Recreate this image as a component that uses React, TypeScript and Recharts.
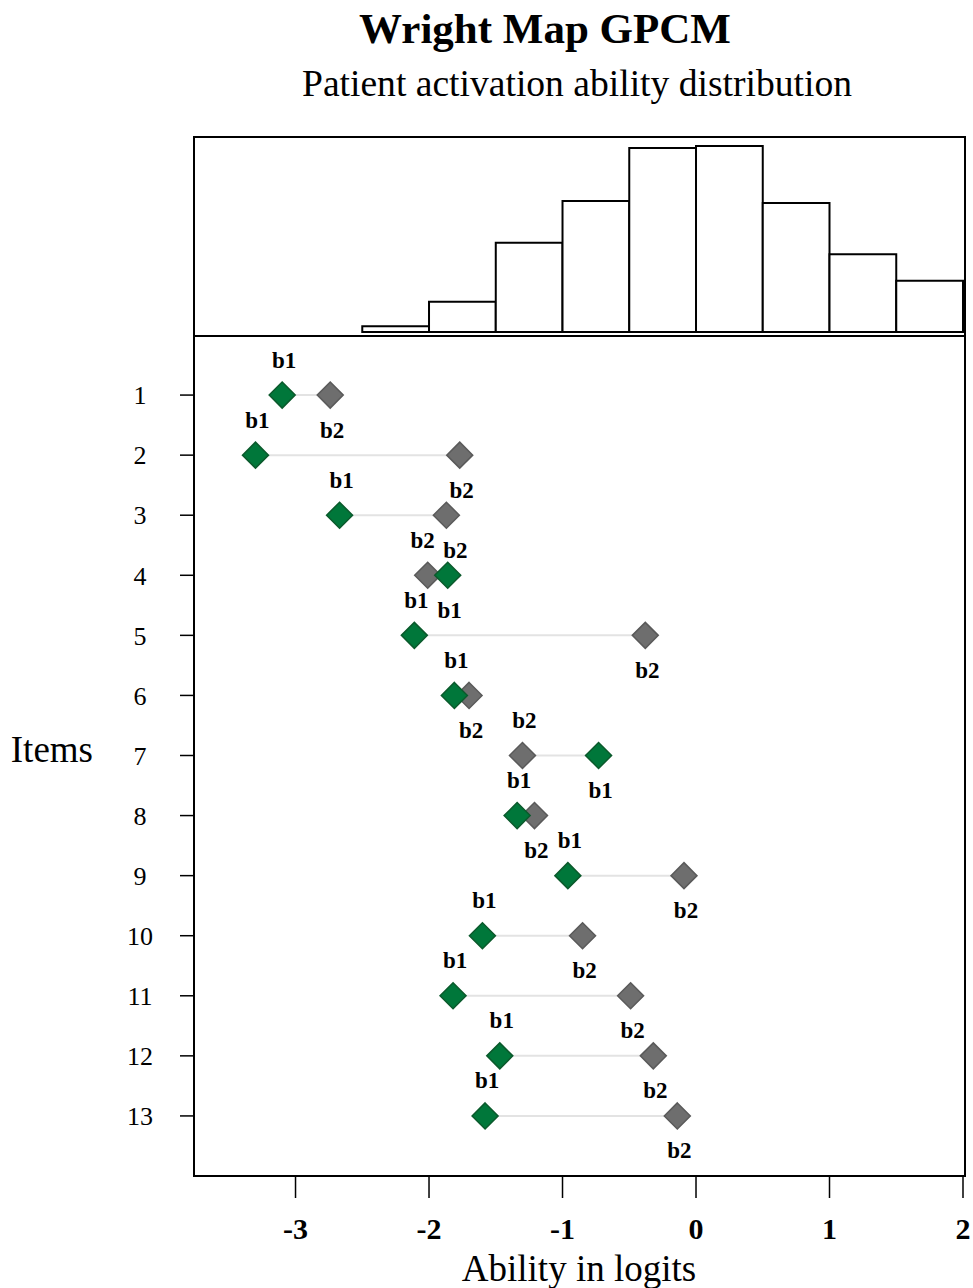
import React from 'react';
import {
  ComposedChart,
  ScatterChart,
  Scatter,
  XAxis,
  YAxis,
  ReferenceArea,
  ReferenceLine,
} from 'recharts';

// histogram of person abilities (0.5 logit bins)
const binStarts = [-2.5, -2, -1.5, -1, -0.5, 0, 0.5, 1, 1.5];
const binWidth = 0.5;
const binCounts = [3, 16, 47, 69, 97, 98, 68, 41, 27];

// item thresholds
const items = [1, 2, 3, 4, 5, 6, 7, 8, 9, 10, 11, 12, 13];
const b1 = [-3.1, -3.3, -2.67, -1.86, -2.11, -1.81, -0.73, -1.34, -0.96, -1.6, -1.82, -1.47, -1.58];
const b2 = [-2.74, -1.77, -1.87, -2.01, -0.38, -1.7, -1.3, -1.21, -0.09, -0.85, -0.49, -0.32, -0.14];

const xTicks = [-3, -2, -1, 0, 1, 2];

const FONT = '"Liberation Serif", "Times New Roman", serif';
const X_DOMAIN: [number, number] = [-3.768, 2.015];
const PX_PER_LOGIT = 772 / (X_DOMAIN[1] - X_DOMAIN[0]);

const bins = binStarts.map((s, i) => ({ x: s, count: binCounts[i] }));
const pts1 = items.map((it, i) => ({ x: b1[i], y: it, tag: 'b1', above: b1[i] <= b2[i], off: 2 }));
const pts2 = items.map((it, i) => ({ x: b2[i], y: it, tag: 'b2', above: b2[i] < b1[i], off: 2 }));

// push apart labels of neighbouring rows that would collide
for (let i = 0; i < items.length - 1; i++) {
  const below = pts1[i].above ? pts2[i] : pts1[i];
  const above = pts1[i + 1].above ? pts1[i + 1] : pts2[i + 1];
  if (Math.abs(below.x - above.x) * PX_PER_LOGIT < 28) {
    below.off += 7;
    above.off -= 7;
  }
}

const diamond = (fill: string, stroke: string) => (props: any) => {
  const { cx, cy, payload } = props;
  const r = 13;
  const ly = payload.above ? cy - 35 : cy + 35;
  return (
    <g>
      <polygon
        points={`${cx},${cy - r} ${cx + r},${cy} ${cx},${cy + r} ${cx - r},${cy}`}
        fill={fill}
        stroke={stroke}
        strokeWidth={1.5}
      />
      <text
        x={cx + payload.off}
        y={ly}
        textAnchor="middle"
        dominantBaseline="central"
        fontFamily={FONT}
        fontWeight="bold"
        fontSize={23}
        fill="#000"
      >
        {payload.tag}
      </text>
    </g>
  );
};

const box = (top: number, height: number): React.CSSProperties => ({
  position: 'absolute',
  left: 193,
  top,
  width: 773,
  height,
  border: '2px solid #000',
  boxSizing: 'border-box',
  pointerEvents: 'none',
});

export default function App() {
  return (
    <div style={{ position: 'absolute', left: 0, top: 0, width: 973, height: 1288, background: '#fff', overflow: 'hidden', fontFamily: FONT }}>
      <div style={{ position: 'absolute', left: 0, width: 1090, top: 7, textAlign: 'center', fontSize: 43, lineHeight: 1, fontWeight: 'bold' }}>
        Wright Map GPCM
      </div>
      <div style={{ position: 'absolute', left: 0, width: 1154, top: 65, textAlign: 'center', fontSize: 37.6, lineHeight: 1 }}>
        Patient activation ability distribution
      </div>

      <div style={{ position: 'absolute', left: 0, top: 0 }}>
        <ComposedChart width={973} height={340} data={bins} margin={{ top: 136, left: 193, right: 8, bottom: 5 }}>
          <XAxis type="number" dataKey="x" domain={X_DOMAIN} allowDataOverflow hide />
          <YAxis type="number" dataKey="count" domain={[-1.58, 103.3]} allowDataOverflow hide />
          {bins.map((b) => (
            <ReferenceArea
              key={b.x}
              x1={b.x}
              x2={b.x + binWidth}
              y1={0}
              y2={b.count}
              fill="#fff"
              fillOpacity={1}
              stroke="#000"
              strokeWidth={2}
            />
          ))}
        </ComposedChart>
      </div>

      <div style={{ position: 'absolute', left: 0, top: 0 }}>
        <ScatterChart width={973} height={1288} margin={{ top: 335, left: 133, right: 8, bottom: 52 }}>
          <XAxis
            type="number"
            dataKey="x"
            domain={X_DOMAIN}
            allowDataOverflow
            ticks={xTicks}
            interval={0}
            height={60}
            axisLine={false}
            tickLine={{ stroke: '#000', strokeWidth: 1.5 }}
            tickSize={22}
            tickMargin={20}
            tick={{ fontFamily: FONT, fontWeight: 'bold', fontSize: 30, fill: '#000' }}
            label={{
              content: (p: any) => {
                const vb = p.viewBox;
                return (
                  <text x={vb.x + vb.width / 2} y={vb.y + vb.height + 45} textAnchor="middle" fontFamily={FONT} fontSize={37} fill="#000">
                    Ability in logits
                  </text>
                );
              },
            }}
          />
          <YAxis
            type="number"
            dataKey="y"
            domain={[0, 14]}
            reversed
            ticks={items}
            interval={0}
            width={60}
            axisLine={false}
            tickLine={{ stroke: '#000', strokeWidth: 1.5 }}
            tickSize={13}
            tickMargin={40}
            tick={{ fontFamily: FONT, fontSize: 26, fill: '#000', textAnchor: 'middle' }}
            label={{
              content: (p: any) => {
                const vb = p.viewBox;
                return (
                  <text x={vb.x - 40} y={vb.y + vb.height / 2 + 6} textAnchor="end" fontFamily={FONT} fontSize={37} fill="#000">
                    Items
                  </text>
                );
              },
            }}
          />
          {items.map((it, i) => (
            <ReferenceLine
              key={it}
              segment={[{ x: b1[i], y: it }, { x: b2[i], y: it }]}
              stroke="#e3e3e3"
              strokeWidth={2}
            />
          ))}
          <Scatter data={pts2} fill="#6e6e6e" shape={diamond('#6e6e6e', '#5a5a5a')} isAnimationActive={false} />
          <Scatter data={pts1} fill="#00773a" shape={diamond('#00773a', '#0b5a2c')} isAnimationActive={false} />
        </ScatterChart>
      </div>

      <div style={box(136, 201)} />
      <div style={box(335, 842)} />
    </div>
  );
}
